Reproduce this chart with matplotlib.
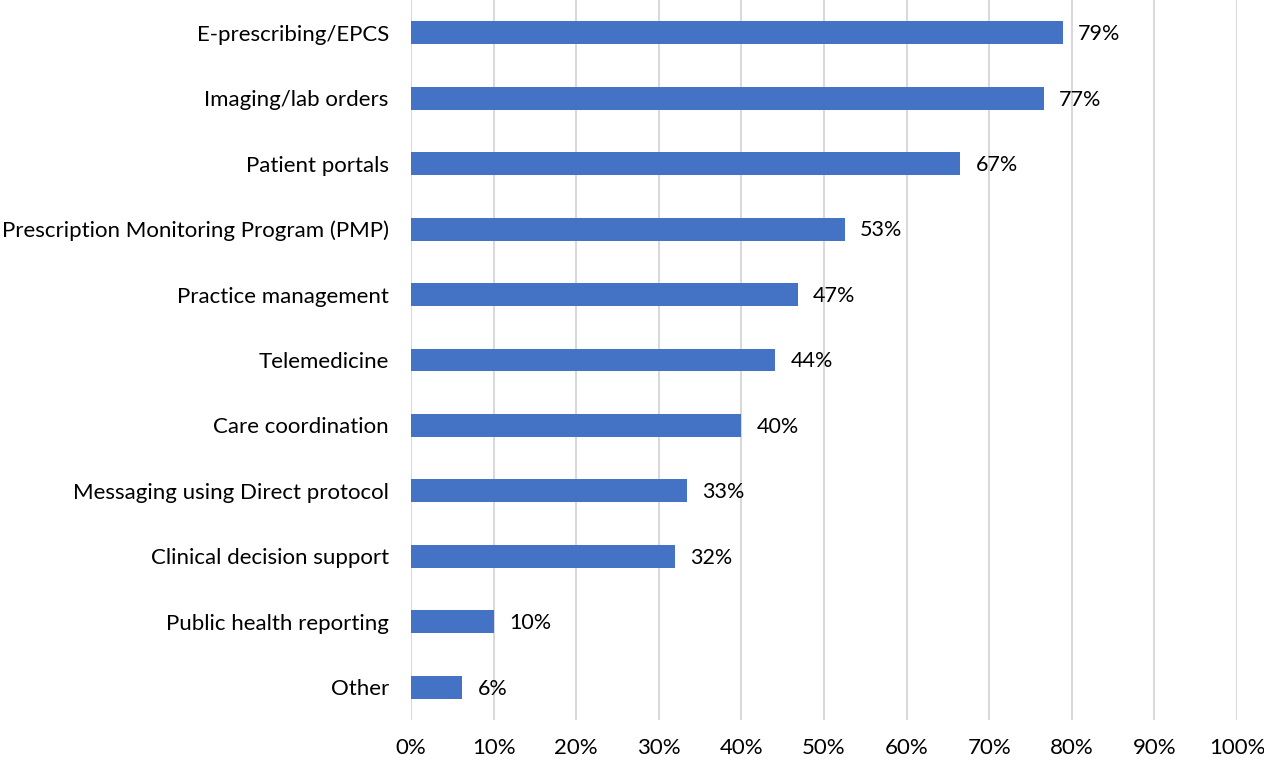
import matplotlib.pyplot as plt
from matplotlib.ticker import FuncFormatter

plt.rcParams['font.family'] = ['Lato', 'DejaVu Sans']

categories = [
    "E-prescribing/EPCS",
    "Imaging/lab orders",
    "Patient portals",
    "Prescription Monitoring Program (PMP)",
    "Practice management",
    "Telemedicine",
    "Care coordination",
    "Messaging using Direct protocol",
    "Clinical decision support",
    "Public health reporting",
    "Other",
]
values = [0.789, 0.766, 0.665, 0.525, 0.468, 0.441, 0.400, 0.334, 0.320, 0.100, 0.062]
labels = ["79%", "77%", "67%", "53%", "47%", "44%", "40%", "33%", "32%", "10%", "6%"]

fig = plt.figure(figsize=(12.64, 7.61), dpi=100)
ax = fig.add_axes([411 / 1264, 41 / 761, 826 / 1264, 720 / 761])

y = list(range(len(categories)))
ax.barh(y, values, height=0.35, color="#4472C4", zorder=3)

for yi, v, lab in zip(y, values, labels):
    ax.annotate(lab, xy=(v, yi), xytext=(11, -1), textcoords="offset points",
                va="center", ha="left", fontsize=15.5, color="#000000")

ax.set_xlim(0, 1.0)
ax.set_ylim(len(categories) - 0.5, -0.5)
ax.set_xticks([i / 10 for i in range(11)])
ax.xaxis.set_major_formatter(FuncFormatter(lambda x, p: f"{x:.0%}"))
ax.set_yticks(y)
ax.set_yticklabels(categories)

ax.grid(axis="x", color="#D9D9D9", linewidth=1.5, zorder=0)
for s in ax.spines.values():
    s.set_visible(False)
ax.tick_params(axis="both", length=0, labelsize=16, colors="#000000")
ax.tick_params(axis="y", pad=16)
ax.tick_params(axis="x", pad=13)

fig.savefig("out.png", dpi=100)
